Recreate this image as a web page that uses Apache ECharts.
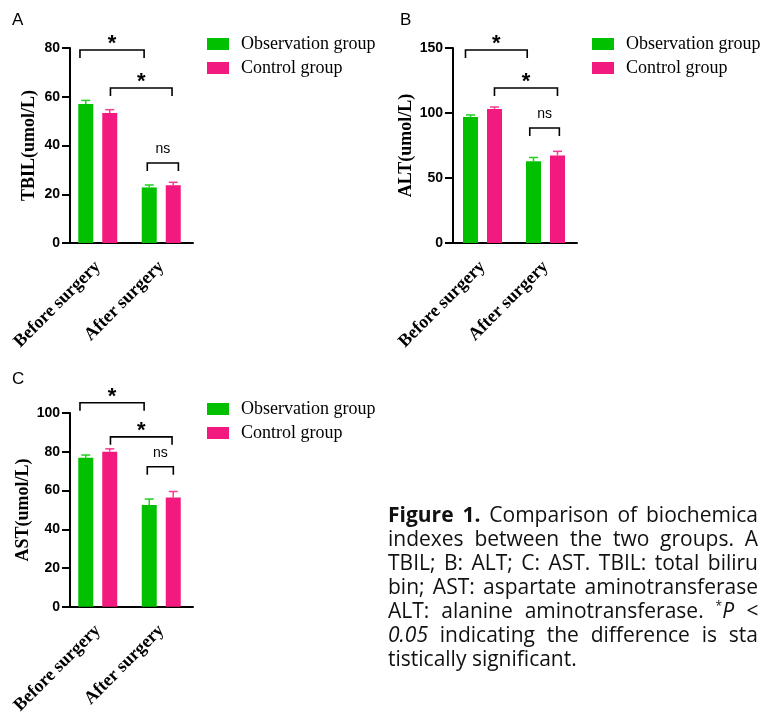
<!DOCTYPE html>
<html>
<head>
<meta charset="utf-8">
<script src="https://cdn.jsdelivr.net/npm/echarts@6/dist/echarts.min.js"></script>
<style>html,body{margin:0;padding:0;background:#fff;}#c{width:761px;height:717px;}</style>
</head>
<body>
<div id="c"></div>
<script>
// ---------- data ----------
const categories = ['Before surgery', 'After surgery'];
const seriesNames = ['Observation group', 'Control group'];

const tbilObs = [57.0, 22.8];   const tbilObsSD = [1.5, 1.0];
const tbilCtrl = [53.3, 23.7];  const tbilCtrlSD = [1.4, 1.2];
const altObs = [96.9, 62.8];    const altObsSD = [1.6, 3.0];
const altCtrl = [103.1, 67.4];  const altCtrlSD = [1.5, 3.1];
const astObs = [76.9, 52.5];    const astObsSD = [1.4, 3.1];
const astCtrl = [80.0, 56.4];   const astCtrlSD = [1.5, 3.1];

const yTitles = ['TBIL(umol/L)', 'ALT(umol/L)', 'AST(umol/L)'];
const yMax = [80, 150, 100];
const yInterval = [20, 50, 20];
const panelLetters = ['A', 'B', 'C'];

// significance brackets: x in category units, y in axis value units
const bracketsA = [
  {x0: -0.28, x1: 0.73, y: 79.2, label: '*'},
  {x0: 0.20, x1: 1.17, y: 63.6, label: '*'},
  {x0: 0.78, x1: 1.27, y: 32.8, label: 'ns'}
];
const bracketsB = [
  {x0: -0.27, x1: 0.71, y: 148.5, label: '*'},
  {x0: 0.19, x1: 1.19, y: 119.2, label: '*'},
  {x0: 0.75, x1: 1.22, y: 88.5, label: 'ns'}
];
const bracketsC = [
  {x0: -0.28, x1: 0.73, y: 105.3, label: '*'},
  {x0: 0.20, x1: 1.17, y: 87.7, label: '*'},
  {x0: 0.78, x1: 1.19, y: 72.3, label: 'ns'}
];

const captionLines = [
  '{b|Figure} {b|1.} Comparison of biochemica',
  'indexes between the two groups. A',
  'TBIL; B: ALT; C: AST. TBIL: total biliru',
  'bin; AST: aspartate aminotransferase',
  'ALT: alanine aminotransferase. {sup|*}{it|P} {it|<}',
  '{it|0.05} indicating the difference is sta',
  'tistically significant.'
];

// ---------- styling ----------
const GREEN = '#00c000';
const PINK = '#f2197f';
const panels = [
  {obs: tbilObs, obsSD: tbilObsSD, ctrl: tbilCtrl, ctrlSD: tbilCtrlSD, br: bracketsA,
   grid: {left: 66, top: 48, width: 127, height: 195}, yOff: -4, legend: {left: 202, top: 30}, letter: [12, 22]},
  {obs: altObs, obsSD: altObsSD, ctrl: altCtrl, ctrlSD: altCtrlSD, br: bracketsB,
   grid: {left: 451, top: 48, width: 126, height: 195}, yOff: -2, legend: {left: 587, top: 30}, letter: [400, 22]},
  {obs: astObs, obsSD: astObsSD, ctrl: astCtrl, ctrlSD: astCtrlSD, br: bracketsC,
   grid: {left: 66, top: 413, width: 127, height: 195}, yOff: -4, legend: {left: 202, top: 395}, letter: [12, 381]}
];

const BAR_W = 15, BAR_GAP = 9, HALF = (BAR_W + BAR_GAP) / 2;

const chart = echarts.init(document.getElementById('c'), null, {renderer: 'canvas'});

const grids = [], xAxes = [], yAxes = [], series = [], legends = [], graphics = [];

panels.forEach((p, i) => {
  grids.push(Object.assign({containLabel: false}, p.grid));
  xAxes.push({
    type: 'category', gridIndex: i, data: categories,
    axisLine: {lineStyle: {color: '#000', width: 2}},
    axisTick: {alignWithLabel: true, length: 7, lineStyle: {color: '#000', width: 2}},
    axisLabel: {rotate: 45, margin: 21, color: '#000', fontFamily: 'Liberation Serif', fontWeight: 'bold', fontSize: 18, interval: 0}
  });
  yAxes.push({
    type: 'value', gridIndex: i, min: 0, max: yMax[i], interval: yInterval[i], offset: p.yOff,
    name: yTitles[i], nameLocation: 'middle', nameGap: 32,
    nameTextStyle: {color: '#000', fontFamily: 'Liberation Serif', fontWeight: 'bold', fontSize: 18},
    splitLine: {show: false},
    axisLine: {show: true, lineStyle: {color: '#000', width: 2}},
    axisTick: {show: true, length: 8, lineStyle: {color: '#000', width: 2}},
    axisLabel: {margin: 10, color: '#000', fontFamily: 'Liberation Sans', fontWeight: 'bold', fontSize: 14}
  });
  series.push({
    name: seriesNames[0], type: 'bar', xAxisIndex: i, yAxisIndex: i, data: p.obs,
    barWidth: BAR_W, barGap: (BAR_GAP / BAR_W * 100) + '%', itemStyle: {color: GREEN}, z: 2
  });
  series.push({
    name: seriesNames[1], type: 'bar', xAxisIndex: i, yAxisIndex: i, data: p.ctrl,
    barWidth: BAR_W, barGap: (BAR_GAP / BAR_W * 100) + '%', itemStyle: {color: PINK}, z: 2
  });
  const errData = [];
  categories.forEach((c, k) => {
    errData.push([k, p.obs[k], p.obsSD[k], -1]);
    errData.push([k, p.ctrl[k], p.ctrlSD[k], 1]);
  });
  series.push({
    type: 'custom', xAxisIndex: i, yAxisIndex: i, data: errData, z: 3, silent: true,
    renderItem: function (params, api) {
      const k = api.value(0), m = api.value(1), sd = api.value(2), side = api.value(3);
      const a = api.coord([k, m]), b = api.coord([k, m + sd]);
      const x = a[0] + side * HALF;
      const col = side < 0 ? '#22d022' : '#f53c92';
      return {type: 'group', children: [
        {type: 'line', shape: {x1: x, y1: a[1], x2: x, y2: b[1]}, style: {stroke: col, lineWidth: 1.5}},
        {type: 'line', shape: {x1: x - 4.5, y1: b[1], x2: x + 4.5, y2: b[1]}, style: {stroke: col, lineWidth: 1.5}}
      ]};
    }
  });
  const brs = p.br;
  series.push({
    type: 'custom', xAxisIndex: i, yAxisIndex: i, clip: false, silent: true, z: 4,
    data: brs.map(b => [b.x0, b.x1, b.y]),
    renderItem: function (params, api) {
      const y = api.value(2);
      const c0 = api.coord([0, y]), c1 = api.coord([1, y]);
      const unit = c1[0] - c0[0];
      const xa = c0[0] + api.value(0) * unit, xb = c0[0] + api.value(1) * unit;
      const yy = c0[1];
      const lab = brs[params.dataIndex].label;
      const isStar = lab === '*';
      return {type: 'group', children: [
        {type: 'polyline', shape: {points: [[xa, yy + 8], [xa, yy], [xb, yy], [xb, yy + 8]]},
         style: {stroke: '#000', lineWidth: 1.6, fill: null}},
        {type: 'text', x: (xa + xb) / 2, y: isStar ? yy - 6 : yy - 14,
         style: {text: lab, align: 'center', verticalAlign: 'middle', fill: '#000',
                 font: isStar ? 'bold 22px "Liberation Sans"' : '14px "Liberation Sans"'}}
      ]};
    }
  });
  legends.push({
    data: seriesNames, orient: 'vertical', left: p.legend.left, top: p.legend.top,
    icon: 'rect', itemWidth: 22, itemHeight: 12, itemGap: 6, selectedMode: false,
    textStyle: {color: '#000', fontFamily: 'Liberation Serif', fontSize: 18, padding: [0, 0, 0, 7]}
  });
  graphics.push({type: 'text', left: p.letter[0], top: p.letter[1] - 10,
    style: {text: panelLetters[i], fill: '#000', font: '17px "Liberation Sans"'}});
});

// ---------- caption (justified) ----------
const CAP_FONT = '"Open Sans"', CAP_SIZE = 21, CAP_X = 388, CAP_R = 758, CAP_Y = 516, CAP_LH = 24;
const mctx = document.createElement('canvas').getContext('2d');
function measureWord(w) {
  let total = 0;
  const re = /\{(\w+)\|([^}]*)\}|([^{]+)/g; let m;
  while ((m = re.exec(w))) {
    const tag = m[1], txt = m[2] !== undefined ? m[2] : m[3];
    let f = CAP_SIZE + 'px ' + CAP_FONT;
    if (tag === 'b') f = 'bold ' + f;
    if (tag === 'it') f = 'italic ' + f;
    if (tag === 'sup') f = '12px ' + CAP_FONT;
    mctx.font = f; total += mctx.measureText(txt).width;
  }
  return total;
}
const rich = {
  b: {fontFamily: CAP_FONT, fontSize: CAP_SIZE, fontWeight: 'bold', fill: '#111'},
  it: {fontFamily: CAP_FONT, fontSize: CAP_SIZE, fontStyle: 'italic', fill: '#111'},
  sup: {fontFamily: CAP_FONT, fontSize: 12, fill: '#111', verticalAlign: 'top', padding: [0, 0, 10, 0]}
};
mctx.font = CAP_SIZE + 'px ' + CAP_FONT;
const SPACE_W = mctx.measureText(' ').width;
captionLines.forEach((line, li) => {
  const words = line.split(' ');
  const widths = words.map(measureWord);
  const sum = widths.reduce((a, b) => a + b, 0);
  const justify = li < captionLines.length - 1;
  let gap = justify ? (CAP_R - CAP_X - sum) / (words.length - 1) : SPACE_W;
  if (gap < SPACE_W * 0.6) gap = SPACE_W * 0.6;
  let x = CAP_X;
  words.forEach((w, wi) => {
    graphics.push({type: 'text', x: x, y: CAP_Y + li * CAP_LH,
      style: {text: w, fill: '#111', fontFamily: CAP_FONT, fontSize: CAP_SIZE, verticalAlign: 'middle', align: 'left', rich: rich}});
    x += widths[wi] + gap;
  });
});

chart.setOption({
  animation: false,
  backgroundColor: '#fff',
  grid: grids, xAxis: xAxes, yAxis: yAxes, series: series, legend: legends, graphic: graphics
});
</script>
</body>
</html>
